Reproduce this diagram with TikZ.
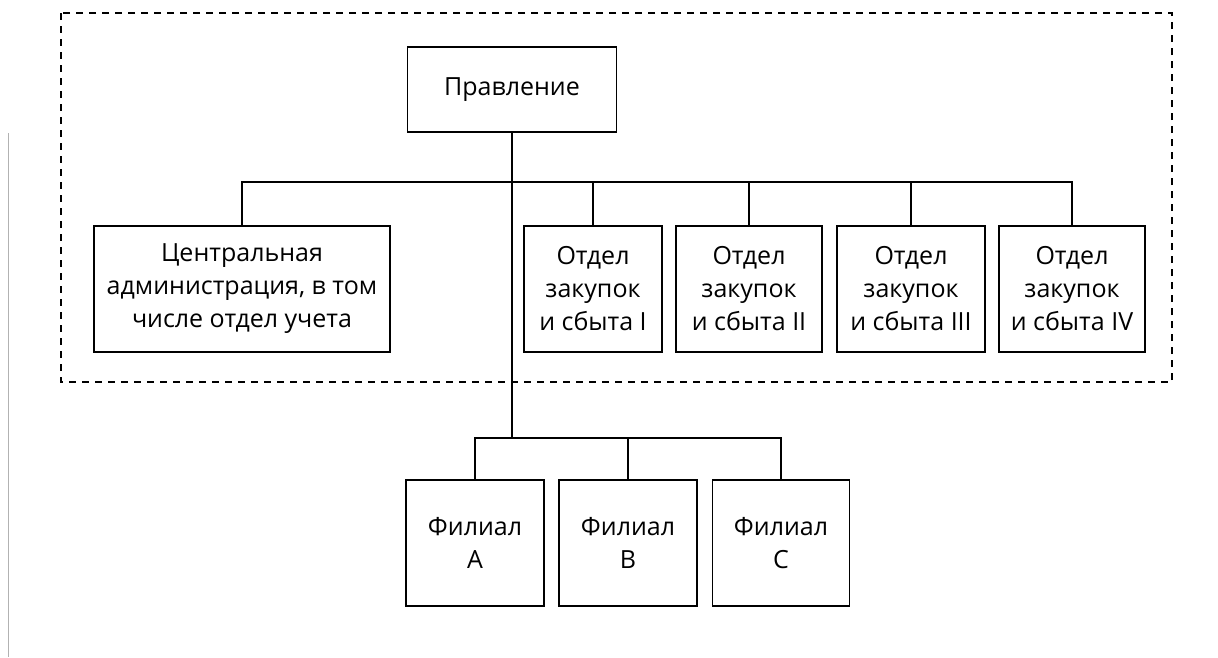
\documentclass[tikz,border=0pt]{standalone}
\usepackage{fontspec}
\setmainfont{Open Sans}
\begin{document}
\begin{tikzpicture}[x=1pt,y=-1pt,
  box/.style={draw,line width=1.8pt,inner sep=0pt,align=center,font=\fontsize{25}{33}\selectfont},
  conn/.style={line width=1.8pt},
  frame/.style={line width=1.8pt,dash pattern=on 7pt off 6pt}]
\useasboundingbox (0,0) rectangle (1218,657);
% faint scan line at left
\draw[black!30,line width=0.8pt] (8,133) -- (8,657);
% dashed frame
\draw[frame] (61,13) rectangle (1172,382);
% nodes
\node[box,minimum width=209pt,minimum height=85pt] (pr) at (512,89.5) {Правление};
\node[box,minimum width=296pt,minimum height=126pt] (ca) at (242,289) {Центральная\\администрация, в том\\числе отдел учета};
\node[box,minimum width=138pt,minimum height=126pt] (o1) at (593,289) {Отдел\\закупок\\и сбыта I};
\node[box,minimum width=146pt,minimum height=126pt] (o2) at (749,289) {Отдел\\закупок\\и сбыта II};
\node[box,minimum width=148pt,minimum height=126pt] (o3) at (911,289) {Отдел\\закупок\\и сбыта III};
\node[box,minimum width=146pt,minimum height=126pt] (o4) at (1072,289) {Отдел\\закупок\\и сбыта IV};
\node[box,minimum width=138pt,minimum height=126pt] (fa) at (475,543) {Филиал\\A};
\node[box,minimum width=138pt,minimum height=126pt] (fb) at (628,543) {Филиал\\B};
\node[box,minimum width=137pt,minimum height=126pt] (fc) at (781,543) {Филиал\\C};
% coordinates
\coordinate (bus1) at (512,182);
\coordinate (bus2) at (512,438);
% connectors
\draw[conn] (pr.south) -- (bus2);
\draw[conn] (ca.north) |- (bus1);
\draw[conn] (o4.north) |- (bus1);
\draw[conn] (o1.north) -- (o1.north |- bus1);
\draw[conn] (o2.north) -- (o2.north |- bus1);
\draw[conn] (o3.north) -- (o3.north |- bus1);
\draw[conn] (fa.north) |- (bus2);
\draw[conn] (fc.north) |- (bus2);
\draw[conn] (fb.north) -- (fb.north |- bus2);
\end{tikzpicture}
\end{document}
